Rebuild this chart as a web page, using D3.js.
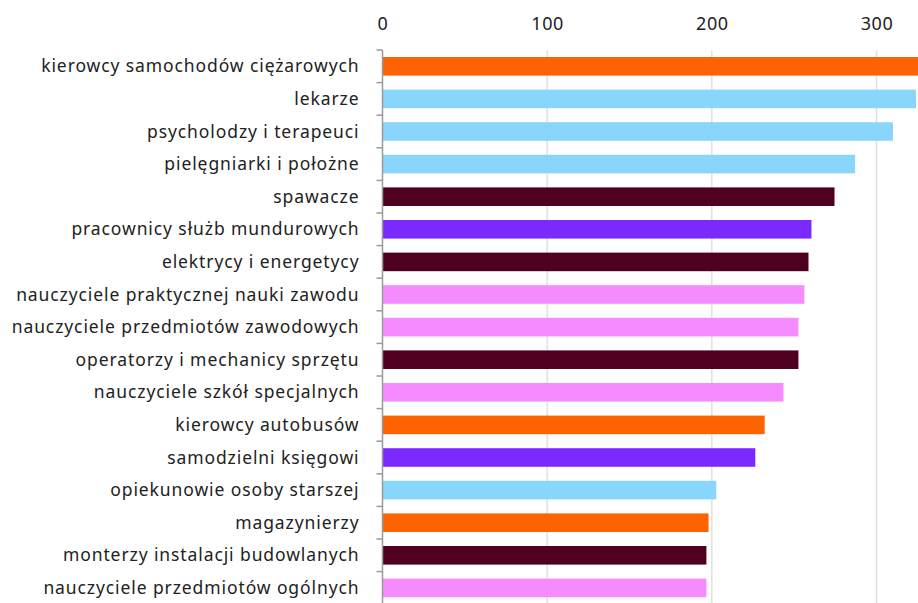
<!DOCTYPE html>
<html>
<head>
<meta charset="utf-8">
<script src="https://cdn.jsdelivr.net/npm/d3@7"></script>
<style>
  html, body { margin: 0; padding: 0; background: #fff; }
  svg { display: block; }
  text { font-family: "Noto Sans", Lato, sans-serif; fill: #222; }
</style>
</head>
<body>
<svg id="chart" width="918" height="603"></svg>
<script>
// Occupations, top to bottom
const categories = [
  "kierowcy samochodów ciężarowych",
  "lekarze",
  "psycholodzy i terapeuci",
  "pielęgniarki i położne",
  "spawacze",
  "pracownicy służb mundurowych",
  "elektrycy i energetycy",
  "nauczyciele praktycznej nauki zawodu",
  "nauczyciele przedmiotów zawodowych",
  "operatorzy i mechanicy sprzętu",
  "nauczyciele szkół specjalnych",
  "kierowcy autobusów",
  "samodzielni księgowi",
  "opiekunowie osoby starszej",
  "magazynierzy",
  "monterzy instalacji budowlanych",
  "nauczyciele przedmiotów ogólnych"
];

const values = [330, 324, 310, 287, 274.5, 260.5, 258.7, 256.2, 252.6, 252.6,
                243.5, 232.1, 226.4, 202.7, 198, 196.7, 196.7];

// Occupation group of each bar
const groups = ["transport", "health", "health", "health", "technical", "office",
                "technical", "education", "education", "technical", "education",
                "transport", "office", "health", "transport", "technical", "education"];

const groupNames = ["transport", "health", "technical", "office", "education"];
const groupColors = ["#FF6200", "#89D6FD", "#4F0020", "#7A2AFF", "#F58BFF"];

const xTicks = [0, 100, 200, 300];

const svg = d3.select("#chart");
const margin = { top: 50, left: 382.5 };
const plotRight = 876.5;
const bandStep = 32.6;
const plotBottom = margin.top + bandStep * categories.length;

const x = d3.scaleLinear().domain([0, 300]).range([margin.left, plotRight]);
const y = d3.scaleBand().domain(categories)
  .range([margin.top, plotBottom]).paddingInner(0.43).paddingOuter(0.215);
const color = d3.scaleOrdinal().domain(groupNames).range(groupColors);

const rows = categories.map((c, i) => ({ name: c, value: values[i], group: groups[i] }));

// vertical gridlines
svg.append("g")
  .selectAll("line")
  .data(xTicks.filter(t => t > 0))
  .join("line")
  .attr("x1", d => x(d)).attr("x2", d => x(d))
  .attr("y1", margin.top).attr("y2", 603)
  .attr("stroke", "#e0e0e0").attr("stroke-width", 1.5);

// bars
svg.append("g")
  .selectAll("rect")
  .data(rows)
  .join("rect")
  .attr("x", x(0))
  .attr("y", d => y(d.name))
  .attr("width", d => x(d.value) - x(0))
  .attr("height", y.bandwidth())
  .attr("fill", d => color(d.group));

// top value axis: labels only
const xAxis = svg.append("g")
  .attr("transform", `translate(0,${margin.top})`)
  .call(d3.axisTop(x).tickValues(xTicks).tickSize(0).tickPadding(20));
xAxis.select(".domain").remove();
xAxis.selectAll("text")
  .attr("font-size", 18)
  .style("font-family", "\"Noto Sans\", Lato, sans-serif")
  .attr("letter-spacing", 0.6)
  .attr("fill", "#222");

// category axis with ticks at band boundaries
const yAxisG = svg.append("g");
yAxisG.append("line")
  .attr("x1", x(0)).attr("x2", x(0))
  .attr("y1", margin.top).attr("y2", 603)
  .attr("stroke", "#9a9a9a").attr("stroke-width", 1.5);

const boundaries = d3.range(categories.length + 1).map(i => margin.top + i * bandStep);
yAxisG.selectAll("line.tick")
  .data(boundaries)
  .join("line")
  .attr("class", "tick")
  .attr("x1", x(0) - 6).attr("x2", x(0))
  .attr("y1", d => d).attr("y2", d => d)
  .attr("stroke", "#9a9a9a").attr("stroke-width", 1.5);

yAxisG.selectAll("text")
  .data(rows)
  .join("text")
  .attr("x", x(0) - 23)
  .attr("y", d => y(d.name) + y.bandwidth() / 2)
  .attr("dy", "0.35em")
  .attr("text-anchor", "end")
  .attr("font-size", 17.5)
  .attr("letter-spacing", 0.9)
  .text(d => d.name);
</script>
</body>
</html>
